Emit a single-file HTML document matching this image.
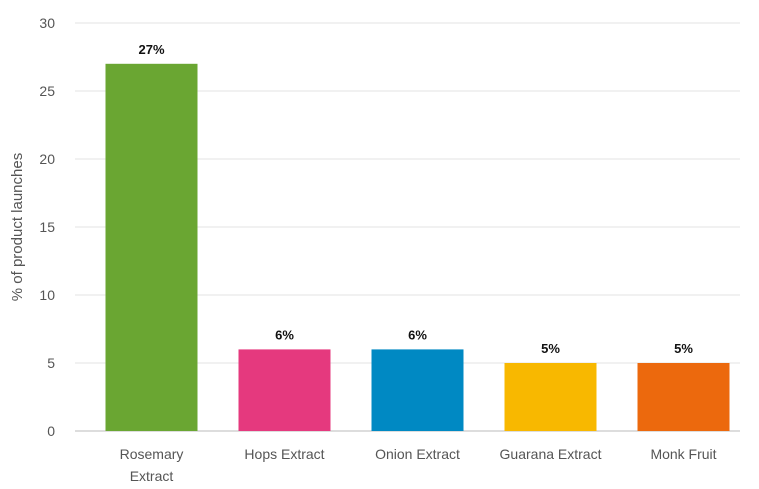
<!DOCTYPE html>
<html><head><meta charset="utf-8"><style>
body{margin:0;background:#fff;}
svg{display:block;font-family:"Liberation Sans",Arial,sans-serif;}
</style></head><body>
<svg id="chart" width="759" height="489" viewBox="0 0 759 489">
<g id="grid"></g>
<g id="yticks"></g>
<g id="bars"></g>
<g id="xlabels"></g>
<text transform="translate(22,227) rotate(-90)" text-anchor="middle" font-size="15" fill="#555">% of product launches</text>
</svg>
<script>
const categories=[["Rosemary","Extract"],["Hops Extract"],["Onion Extract"],["Guarana Extract"],["Monk Fruit"]];
const values=[27,6,6,5,5];
const valueLabels=["27%","6%","6%","5%","5%"];
const yTicks=[0,5,10,15,20,25,30];
const colors=["#6aa632","#e5397e","#0089c3","#f8b800","#ec690d"];
const NS="http://www.w3.org/2000/svg";
const x0=75,x1=740,y0=431,y1=23,yMax=30;
const y=v=>y0-(v/yMax)*(y0-y1);
const bw=(x1-x0)/categories.length;
const xc=i=>x0+bw*(i+0.5)+10;
function mk(t,a,p){const e=document.createElementNS(NS,t);for(const k in a)e.setAttribute(k,a[k]);p.appendChild(e);return e;}
const grid=document.getElementById('grid'),yt=document.getElementById('yticks'),bars=document.getElementById('bars'),xl=document.getElementById('xlabels');
yTicks.forEach(t=>{
 const l=mk('line',{x1:x0,x2:x1,y1:y(t),y2:y(t),stroke:t===0?'#bbb':'#e3e3e3','stroke-width':1},grid);
 
 
 const tx=mk('text',{x:55,y:y(t)+5,'text-anchor':'end','font-size':14,fill:'#555'},yt);
 tx.textContent=t;
 
 
});
values.forEach((v,i)=>{
 const r=mk('rect',{x:xc(i)-46,y:y(v),width:92,height:y0-y(v),fill:colors[i]},bars);
 
 
 const t=mk('text',{x:xc(i),y:y(v)-10,'text-anchor':'middle','font-size':13,'font-weight':'bold',fill:'#111'},bars);
 t.textContent=valueLabels[i];
 
 
 categories[i].forEach((s,j)=>{
  const c=mk('text',{x:xc(i),y:459+j*22,'text-anchor':'middle','font-size':14,fill:'#555'},xl);
  c.textContent=s;
  
  
 });
});
</script>
</body></html>
